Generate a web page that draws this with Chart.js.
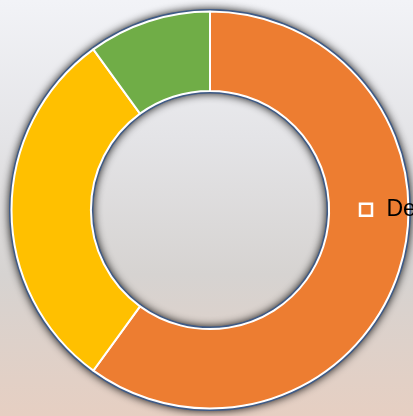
<!DOCTYPE html>
<html><head><meta charset="utf-8">
<script src="https://cdn.jsdelivr.net/npm/chart.js@4.4.1/dist/chart.umd.min.js"></script>
<style>
html,body{margin:0;padding:0;overflow:hidden;}
body{width:413px;height:416px;background:linear-gradient(to bottom,#F2F3F7 0%,#E4E4E7 33%,#D6D3D1 66%,#E6CFC2 100%);}
#wrap{position:relative;width:413px;height:416px;}
</style></head><body>
<div id="wrap"><canvas id="c"></canvas></div>
<script>
const categories = ['Segment 1', 'Segment 2', 'Segment 3'];
const values = [60, 30, 10];
const legendLabels = ['De'];
const colors = ['#ED7D31', '#FFC000', '#70AD47'];

const ringShadow = {
  id: 'ringShadow',
  beforeDatasetsDraw(chart) {
    const arc = chart.getDatasetMeta(0).data[0];
    if (!arc) return;
    const p = arc.getProps(['x', 'y', 'outerRadius', 'innerRadius'], true);
    const ctx = chart.ctx;
    ctx.save();
    ctx.beginPath();
    ctx.moveTo(p.x + p.outerRadius + 2.5, p.y);
    ctx.arc(p.x, p.y, p.outerRadius + 2.5, 0, Math.PI * 2);
    ctx.moveTo(p.x + p.innerRadius - 2.5, p.y);
    ctx.arc(p.x, p.y, Math.max(p.innerRadius - 2.5, 0), 0, Math.PI * 2, true);
    ctx.closePath();
    ctx.shadowColor = 'rgba(0,0,0,0.9)';
    ctx.shadowBlur = 9;
    ctx.fillStyle = '#3E5A86';
    ctx.fill('evenodd');
    ctx.restore();
  }
};

const legendPlace = {
  id: 'legendPlace',
  beforeLayout(chart) {
    const lg = chart.legend;
    if (lg) {
      lg._layers = function () {
        return [{ z: 10, draw: (ca) => lg.draw(ca) }];
      };
    }
  },
  afterLayout(chart) {
    const lg = chart.legend;
    if (!lg) return;
    lg.left = 347;
    lg.right = 700;
    lg.width = lg.right - lg.left;
    lg.top = chart.chartArea.top + 10;
  }
};

new Chart(document.getElementById('c'), {
  type: 'doughnut',
  data: {
    labels: categories,
    datasets: [{
      data: values,
      backgroundColor: colors,
      borderColor: '#FFFFFF',
      borderWidth: 2,
      hoverOffset: 0
    }]
  },
  options: {
    responsive: true,
    maintainAspectRatio: false,
    animation: false,
    cutout: '60%',
    layout: { padding: { left: 10.5, right: 3.5, top: 10.5, bottom: 6.5 } },
    plugins: {
      tooltip: { enabled: false },
      legend: {
        position: 'chartArea',
        align: 'center',
        onClick: null,
        labels: {
          usePointStyle: true,
          pointStyle: 'rect',
          boxWidth: 18,
          boxHeight: 12,
          padding: 10,
          color: '#000000',
          font: { family: "'Liberation Sans', Arial, sans-serif", size: 23 },
          generateLabels() {
            return legendLabels.map((t, i) => ({
              text: t,
              fillStyle: 'rgba(0,0,0,0)',
              strokeStyle: '#FFFFFF',
              lineWidth: 2.5,
              fontColor: '#000000',
              pointStyle: 'rect',
              hidden: false,
              index: i
            }));
          }
        }
      }
    }
  },
  plugins: [ringShadow, legendPlace]
});
</script>
</body></html>
